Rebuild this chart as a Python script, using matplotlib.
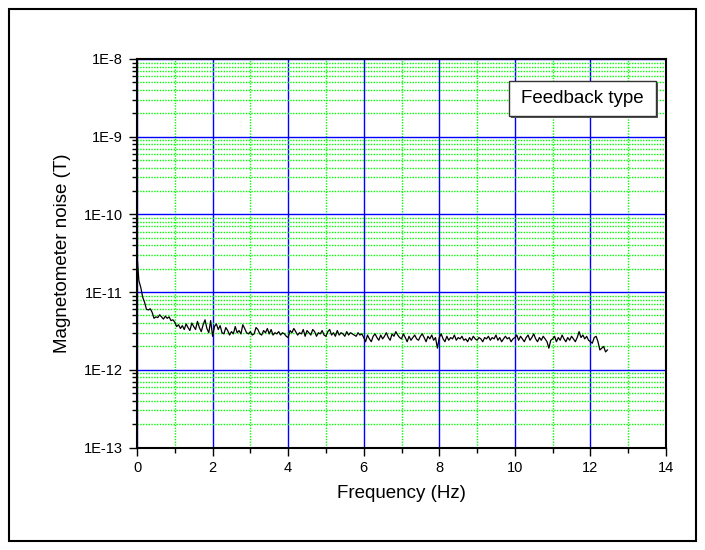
import numpy as np
import matplotlib
matplotlib.use("Agg")
import matplotlib.pyplot as plt
import matplotlib.patches as patches
from matplotlib.ticker import LogLocator, FixedLocator, NullFormatter

plt.rcParams['font.family'] = ['Liberation Sans', 'DejaVu Sans']

# Frequency step 0.05 Hz, values in units of 1e-12 T (rows of 1 Hz)
freq_step = 0.05
noise_pT = [
    30, 14, 11.5, 8.6, 7.4, 6.0, 5.9, 6.1, 5.5, 4.6, 4.8, 4.7, 5.1, 4.8, 4.5, 4.9, 4.6, 4.8, 4.3, 4.4,
    4.1, 3.6, 3.8, 3.4, 3.7, 3.3, 3.9, 3.5, 3.2, 4.0, 3.6, 3.3, 4.2, 3.5, 3.1, 3.8, 4.4, 3.4, 3.0, 4.3,
    2.7, 3.6, 3.9, 3.3, 3.7, 3.0, 2.9, 3.5, 3.2, 2.8, 3.1, 2.9, 3.6, 3.0, 3.2, 2.9, 3.8, 3.4, 3.0, 2.9,
    3.1, 2.8, 2.9, 3.5, 3.3, 2.9, 2.8, 3.2, 3.0, 3.4, 2.9, 3.3, 2.8, 3.0, 2.9, 3.1, 2.8, 3.0, 2.9, 2.7,
    2.6, 3.2, 3.0, 3.4, 3.1, 2.8, 3.0, 2.9, 3.3, 2.7, 3.2, 3.0, 2.8, 3.3, 3.1, 2.7, 3.0, 2.9, 3.2, 2.8,
    2.7, 3.1, 3.3, 2.8, 3.0, 2.7, 3.2, 2.8, 3.0, 2.9, 2.7, 3.1, 2.8, 3.0, 2.9, 2.8, 2.7, 3.0, 2.8, 2.9,
    2.6, 2.3, 2.8, 2.5, 2.3, 2.7, 2.9, 2.6, 2.4, 2.8, 2.5, 2.7, 3.0, 2.6, 2.4, 2.9, 2.7, 3.1, 2.8, 2.6,
    2.5, 2.9, 2.6, 2.3, 2.7, 2.4, 2.6, 2.8, 2.5, 2.4, 2.7, 2.9, 2.6, 2.3, 2.7, 2.5, 2.8, 2.4, 2.6, 1.9,
    2.6, 2.9, 2.5, 2.3, 2.7, 2.4, 2.6, 2.5, 2.8, 2.4, 2.6, 2.5, 2.7, 2.4, 2.5, 2.3, 2.6, 2.4, 2.7, 2.5,
    2.4, 2.6, 2.5, 2.3, 2.6, 2.5, 2.7, 2.4, 2.6, 2.5, 2.8, 2.4, 2.6, 2.3, 2.5, 2.7, 2.5, 2.6, 2.3, 2.5,
    2.6, 2.8, 2.4, 2.7, 2.5, 2.3, 2.6, 2.8, 2.4, 2.6, 2.9, 2.5, 2.3, 2.6, 2.4, 2.7, 2.5, 2.3, 1.9, 2.4,
    2.5, 2.7, 2.3, 2.6, 2.4, 2.8, 2.5, 2.3, 2.6, 2.4, 2.7, 2.5, 2.3, 2.6, 3.1, 2.6, 2.8, 2.5, 2.7, 2.4,
    2.3, 2.2, 2.6, 2.7, 2.3, 1.8, 1.9, 2.0, 1.7, 1.8,
]
x_major_ticks = [0, 2, 4, 6, 8, 10, 12, 14]
x_minor_ticks = [1, 3, 5, 7, 9, 11, 13]
y_ticks = [1e-13, 1e-12, 1e-11, 1e-10, 1e-9, 1e-8]
y_tick_labels = ["1E-13", "1E-12", "1E-11", "1E-10", "1E-9", "1E-8"]
xlabel = "Frequency (Hz)"
ylabel = "Magnetometer noise (T)"
legend_title = "Feedback type"

freq = np.arange(len(noise_pT)) * freq_step
noise = np.array(noise_pT) * 1e-12

fig = plt.figure(figsize=(7.05, 5.5), dpi=100)
ax = fig.add_axes([137/705, 102.5/550, 529/705, 388.5/550])

ax.plot(freq, noise, color='black', lw=0.9, zorder=3)

ax.set_yscale('log')
ax.set_xlim(0, 14)
ax.set_ylim(1e-13, 1e-8)

ax.xaxis.set_major_locator(FixedLocator(x_major_ticks))
ax.xaxis.set_minor_locator(FixedLocator(x_minor_ticks))
ax.set_xticklabels([str(t) for t in x_major_ticks])
ax.yaxis.set_major_locator(FixedLocator(y_ticks))
ax.set_yticklabels(y_tick_labels)
ax.yaxis.set_minor_locator(LogLocator(base=10, subs=np.arange(2, 10), numticks=50))
ax.yaxis.set_minor_formatter(NullFormatter())

ax.grid(which='major', color='#0000ff', lw=1.0, ls='-', zorder=1)
ax.grid(which='minor', color='#00ff00', lw=1.0, ls=(0, (1, 1)), zorder=0)
ax.set_axisbelow(True)

ax.tick_params(which='major', direction='out', length=6, width=1.0, labelsize=10.5, pad=4,
               top=False, right=False)
ax.tick_params(which='minor', direction='out', length=3.5, width=1.0, top=False, right=False)

for s in ax.spines.values():
    s.set_linewidth(1.5)
    s.set_color('black')

ax.set_xlabel(xlabel, fontsize=13.5, labelpad=7)
ax.set_ylabel(ylabel, fontsize=13.5, labelpad=9)

# legend-like box with shadow
x0, x1 = 0.7032, 0.9811
y0, y1 = 0.8533, 0.9434
dx, dy = 2/529, 2/388.5
ax.add_patch(patches.Rectangle((x0 + dx, y0 - dy), x1 - x0, y1 - y0, transform=ax.transAxes,
                               facecolor='#555555', edgecolor='none', zorder=4))
ax.add_patch(patches.Rectangle((x0, y0), x1 - x0, y1 - y0, transform=ax.transAxes,
                               facecolor='white', edgecolor='#333333', lw=1.0, zorder=5))
ax.text((x0 + x1) / 2, (y0 + y1) / 2, legend_title, transform=ax.transAxes,
        ha='center', va='center', fontsize=13.5, zorder=6)

# outer frame
fig.patches.append(patches.Rectangle((9/705, 9/550), 687/705, 532/550, transform=fig.transFigure,
                                     fill=False, edgecolor='black', lw=1.5))

fig.savefig('out.png', dpi=100)
